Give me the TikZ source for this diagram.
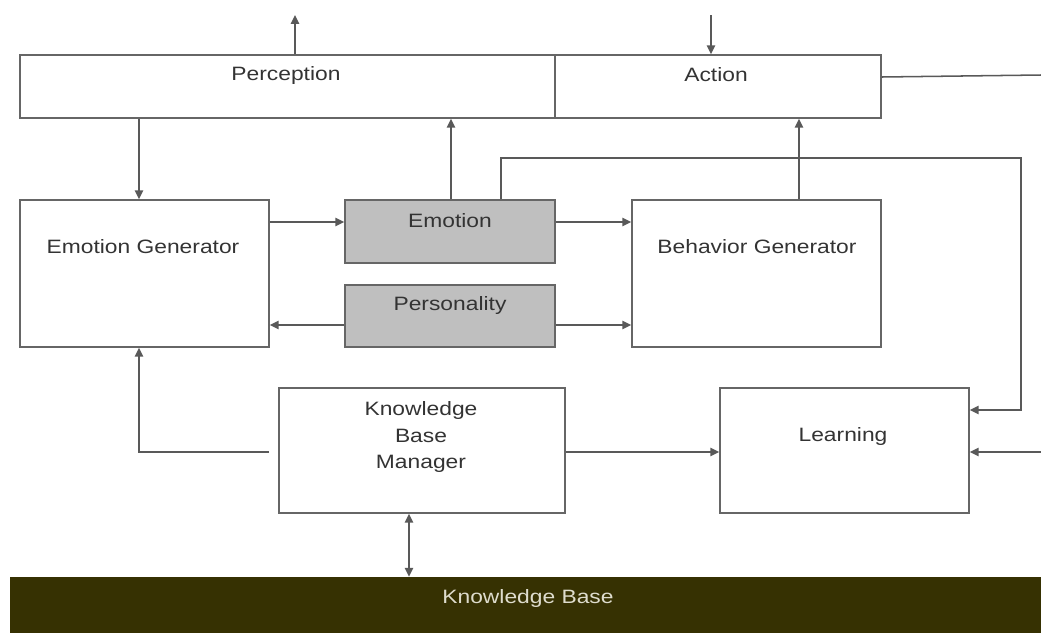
\documentclass[tikz,border=0pt]{standalone}
\usepackage{fontspec}
\setmainfont{Liberation Sans}
\usetikzlibrary{fit,arrows.meta}
\newcommand{\wlbl}[1]{\scalebox{1.18}[1]{#1}}
\tikzset{
  box/.style={draw=black!60, line width=1.3pt, inner sep=0pt},
  gbox/.style={box, fill=black!25},
  lbl/.style={font=\fontsize{16.5}{23}\selectfont, text=black!80, inner sep=0pt, align=center},
  tip/.style={Triangle[length=7.5pt,width=7pt]},
  conn/.style={draw=black!65, line width=1.3pt, -{Triangle[length=7.5pt,width=7pt]}},
  plain/.style={draw=black!65, line width=1.3pt},
}
\begin{document}
\begin{tikzpicture}[x=0.03cm, y=-0.03cm]
\useasboundingbox (0,0) rectangle (1041,633);
% boxes
\node[box, fit={(20,55) (555,118)}] (perc) {};
\node[box, fit={(555,55) (881,118)}] (act) {};
\node[box, fit={(20,200) (269,347)}] (eg) {};
\node[gbox, fit={(345,200) (555,263)}] (emo) {};
\node[gbox, fit={(345,285) (555,347)}] (pers) {};
\node[box, fit={(632,200) (881,347)}] (bg) {};
\node[box, fit={(279,388) (565,513)}] (kbm) {};
\node[box, fit={(720,388) (969,513)}] (learn) {};
\node[fill={rgb,255:red,54;green,49;blue,2}, inner sep=0pt, fit={(10,577) (1041,633)}] (kb) {};
% labels
\node[lbl] (percL) at (286,75) {\wlbl{Perception}};
\node[lbl] (actL) at (716,75) {\wlbl{Action}};
\node[lbl] (emoL) at (450,221) {\wlbl{Emotion}};
\node[lbl] (persL) at (450,305) {\wlbl{Personality}};
\node[lbl] (egL) at (143,247) {\wlbl{Emotion Generator}};
\node[lbl] (bgL) at (757,247) {\wlbl{Behavior Generator}};
\node[lbl] (kbmL) at (421,437) {\wlbl{Knowledge}\\\wlbl{Base}\\\wlbl{Manager}};
\node[lbl] (learnL) at (843,436) {\wlbl{Learning}};
\node[lbl, text={rgb,255:red,222;green,220;blue,205}] (kbL) at (528,598) {\wlbl{Knowledge Base}};
% free ends
\coordinate (topOut) at (295,15);
\coordinate (topIn) at (711,15);
\coordinate (rightOut) at (1041,75);
\coordinate (rightIn) at (1041,452);
% connectors
\draw[conn] (perc.north -| topOut) -- (topOut);
\draw[conn] (topIn) -- (act.north -| topIn);
\draw[plain] (act.east |- 0,77) -- (rightOut);
\draw[conn] (perc.south -| 139,0) -- (eg.north -| 139,0);
\draw[conn] (emo.north -| 451,0) -- (perc.south -| 451,0);
\draw[conn] (bg.north -| 799,0) -- (act.south -| 799,0);
\draw[conn] (emo.north -| 501,0) -- (501,158) -- (1021,158) -- (1021,410) -- (learn.east |- 0,410);
\draw[conn] (eg.east |- 0,222) -- (emo.west |- 0,222);
\draw[conn] (emo.east |- 0,222) -- (bg.west |- 0,222);
\draw[conn] (pers.west |- 0,325) -- (eg.east |- 0,325);
\draw[conn] (pers.east |- 0,325) -- (bg.west |- 0,325);
\draw[conn] (269,452) -- (139,452) -- (eg.south -| 139,0);
\draw[conn] (kbm.east |- 0,452) -- (learn.west |- 0,452);
\draw[conn] (rightIn) -- (learn.east |- rightIn);
\draw[plain, {Triangle[length=7.5pt,width=7pt]}-{Triangle[length=7.5pt,width=7pt]}] (kbm.south -| 409,0) -- (kb.north -| 409,0);
\end{tikzpicture}
\end{document}
